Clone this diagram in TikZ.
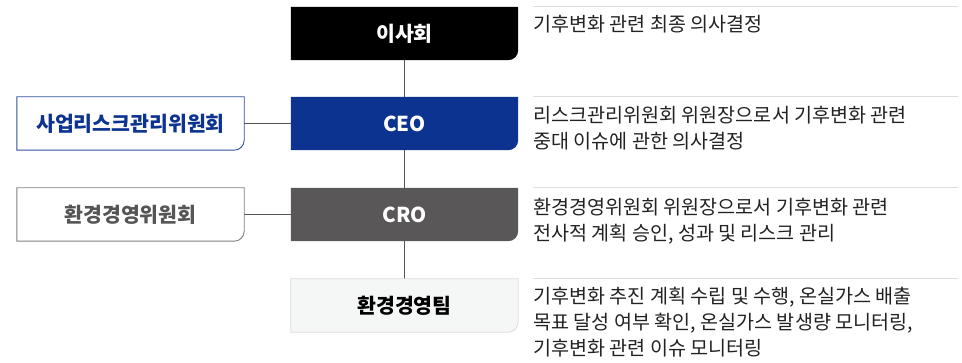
\documentclass[tikz,border=0pt]{standalone}
\usepackage{fontspec}
\setmainfont{Noto Sans CJK KR}
\usepackage{tikz}
\usetikzlibrary{positioning, backgrounds, calc}
\definecolor{ceoblue}{HTML}{0C3390}
\definecolor{crogray}{HTML}{595757}
\definecolor{teamfill}{HTML}{F5F6F6}
\definecolor{teamline}{HTML}{DCDCDC}
\definecolor{envgray}{HTML}{555555}
\definecolor{sepgray}{HTML}{DDDDDD}
\definecolor{desctext}{HTML}{222222}
\tikzset{
    orgbox/.style={minimum width=227pt, minimum height=53pt, inner sep=0pt,
        font=\bfseries\fontsize{20.5}{22}\selectfont},
    desc/.style={anchor=north west, inner sep=0pt, align=left, text=desctext,
        font=\fontsize{19.6}{26}\selectfont},
    link/.style={draw=envgray, line width=0.9pt},
}
% box with only the lower right corner rounded
\newcommand{\cardbg}[2]{%
    \path[#2] (#1.north west) -- (#1.north east) -- ([yshift=10pt]#1.south east)
        arc (0:-90:10pt) -- (#1.south west) -- cycle;}

\begin{document}
\begin{tikzpicture}[x=1pt, y=1pt]
    \useasboundingbox (0,0) rectangle (962,-363);
    \node[orgbox, text=white] (board) at (404.5,-33.5) {이사회};
    \node[orgbox, text=white] (ceo) at (404.5,-123.5) {CEO};
    \node[orgbox, text=white] (cro) at (404.5,-214.5) {CRO};
    \node[orgbox, text=black] (team) at (404.5,-305.5) {환경경영팀};
    \node[orgbox, text=ceoblue] (riskcom) at (130.5,-123.5) {사업리스크관리위원회};
    \node[orgbox, text=envgray] (envcom) at (130.5,-214.5) {환경경영위원회};
    \begin{scope}[on background layer]
        \path[link] (board.south) -- (ceo.north);
        \path[link] (ceo.south) -- (cro.north);
        \path[link] (cro.south) -- (team.north);
        \path[link] (riskcom.east) -- (ceo.west);
        \path[link] (envcom.east) -- (cro.west);
        \cardbg{board}{fill=black}
        \cardbg{ceo}{fill=ceoblue}
        \cardbg{cro}{fill=crogray}
        \cardbg{team}{fill=teamfill, draw=teamline, line width=0.8pt}
        \cardbg{riskcom}{fill=white, draw=ceoblue!85, line width=0.9pt}
        \cardbg{envcom}{fill=white, draw=gray, line width=0.9pt}
    \end{scope}
    % separators and descriptions
    \foreach \y in {7,97,188,279}
        \draw[sepgray, line width=1pt] (533,-\y) -- (958,-\y);
    \node[desc] (boarddesc) at (533,-15) {기후변화 관련 최종 의사결정};
    \node[desc] (ceodesc) at (533,-106) {리스크관리위원회 위원장으로서 기후변화 관련\\중대 이슈에 관한 의사결정};
    \node[desc] (crodesc) at (533,-198) {환경경영위원회 위원장으로서 기후변화 관련\\전사적 계획 승인, 성과 및 리스크 관리};
    \node[desc] (teamdesc) at (533,-287) {기후변화 추진 계획 수립 및 수행, 온실가스 배출\\목표 달성 여부 확인, 온실가스 발생량 모니터링,\\기후변화 관련 이슈 모니터링};
\end{tikzpicture}
\end{document}
